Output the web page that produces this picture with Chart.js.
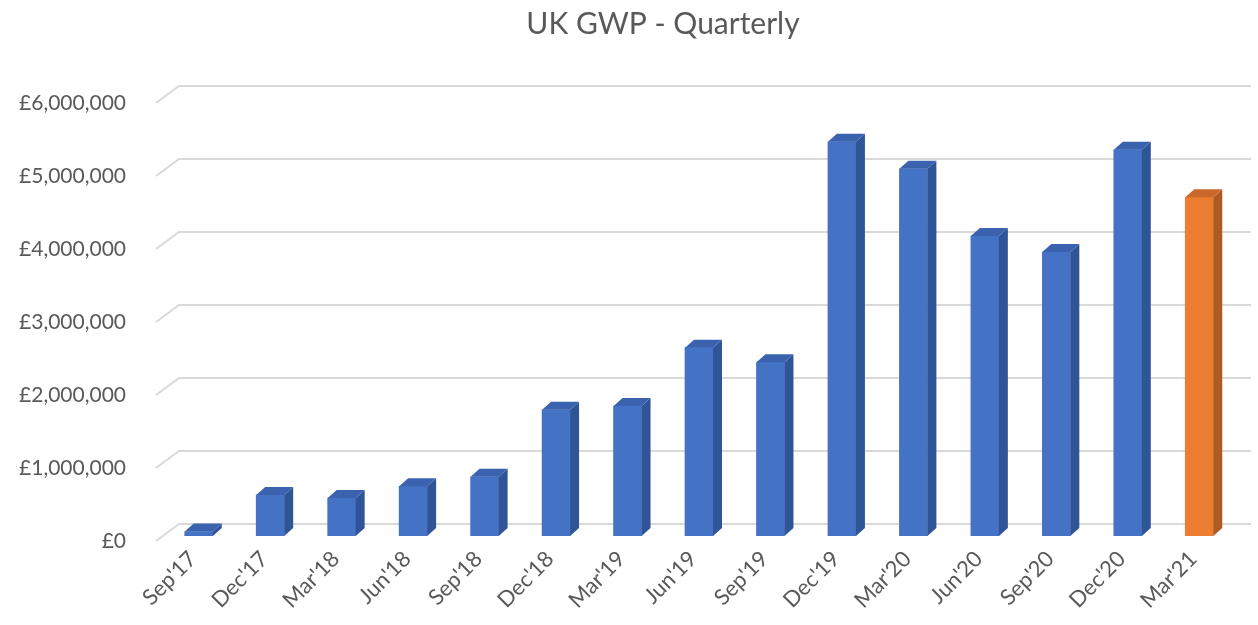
<!DOCTYPE html>
<html><head><meta charset="utf-8">
<script src="https://cdn.jsdelivr.net/npm/chart.js@4.4.1/dist/chart.umd.min.js"></script>
<style>html,body{margin:0;padding:0;background:#fff}#wrap{width:1258px;height:625px}</style>
</head><body><div id="wrap"><canvas id="c" width="1258" height="625"></canvas></div>
<script>
const categories = ["Sep'17","Dec'17","Mar'18","Jun'18","Sep'18","Dec'18","Mar'19","Jun'19","Sep'19","Dec'19","Mar'20","Jun'20","Sep'20","Dec'20","Mar'21"];
const gwpValues = [60000,560000,520000,680000,810000,1730000,1780000,2580000,2380000,5400000,5030000,4110000,3890000,5290000,4640000];
const yTickValues = [0,1000000,2000000,3000000,4000000,5000000,6000000];
const chartTitle = "UK GWP - Quarterly";

const BLUE = {front:'#4472C4', side:'#2F5597', top:'#3A62AE'};
const ORANGE = {front:'#ED7D31', side:'#AE5A21', top:'#C9682A'};
const palette = categories.map((c,i)=> i===categories.length-1 ? ORANGE : BLUE);

const DEPTH = {dx:9, dy:8};
const FRONT = {dx:-7, dy:5};
const BACK = {dx:16, dy:-12};
const FONT = "Lato, 'Open Sans', sans-serif";

const threeD = {
  id:'threeD',
  beforeDatasetsDraw(chart){
    const {ctx, chartArea:a, scales:{y}} = chart;
    ctx.save();
    ctx.strokeStyle = '#d9d9d9';
    ctx.lineWidth = 2;
    yTickValues.forEach(v=>{
      const py = y.getPixelForValue(v);
      ctx.beginPath();
      ctx.moveTo(a.left+FRONT.dx, py+FRONT.dy);
      ctx.lineTo(a.left+BACK.dx, py+BACK.dy);
      ctx.lineTo(a.right+BACK.dx, py+BACK.dy);
      ctx.stroke();
    });
    ctx.restore();
  },
  afterDatasetsDraw(chart){
    const {ctx} = chart;
    const meta = chart.getDatasetMeta(0);
    ctx.save();
    meta.data.forEach((bar,i)=>{
      const p = bar.getProps(['x','y','base','width'], true);
      const l = p.x - p.width/2, r = p.x + p.width/2;
      const col = palette[i];
      ctx.fillStyle = col.side;
      ctx.beginPath();
      ctx.moveTo(r, p.y); ctx.lineTo(r+DEPTH.dx, p.y-DEPTH.dy);
      ctx.lineTo(r+DEPTH.dx, p.base-DEPTH.dy); ctx.lineTo(r, p.base);
      ctx.closePath(); ctx.fill();
      ctx.fillStyle = col.top;
      ctx.beginPath();
      ctx.moveTo(l, p.y); ctx.lineTo(r, p.y);
      ctx.lineTo(r+DEPTH.dx, p.y-DEPTH.dy); ctx.lineTo(l+DEPTH.dx, p.y-DEPTH.dy);
      ctx.closePath(); ctx.fill();
    });
    ctx.restore();
  },
  afterDraw(chart){
    const {ctx} = chart;
    ctx.save();
    ctx.fillStyle = '#595959';
    ctx.font = "30px " + FONT;
    ctx.textAlign = 'center';
    ctx.textBaseline = 'middle';
    ctx.fillText(chartTitle, 663, 24);
    ctx.restore();
  }
};

new Chart(document.getElementById('c'), {
  type:'bar',
  data:{
    labels: categories,
    datasets:[{
      data: gwpValues,
      backgroundColor: palette.map(c=>c.front),
      borderWidth:0,
      barThickness:28
    }]
  },
  options:{
    responsive:false,
    animation:false,
    layout:{padding:{left:0,right:23,top:98,bottom:0}},
    plugins:{
      legend:{display:false},
      tooltip:{enabled:false},
      title:{display:false}
    },
    scales:{
      x:{
        grid:{display:false},
        border:{display:false},
        ticks:{color:'#595959',font:{family:FONT,size:22},maxRotation:45,minRotation:45,padding:2,labelOffset:-6,autoSkip:false},
        afterFit(s){ s.height = 89; }
      },
      y:{
        min:0,max:6000000,
        grid:{display:false},
        border:{display:false},
        afterBuildTicks(s){ s.ticks = yTickValues.map(v=>({value:v})); },
        ticks:{color:'#595959',font:{family:FONT,size:21},padding:29,labelOffset:5,
          callback:(v)=>'£'+Number(v).toLocaleString('en-GB')},
        afterFit(s){ s.width = 163; }
      }
    }
  },
  plugins:[threeD]
});
</script>
</body></html>
